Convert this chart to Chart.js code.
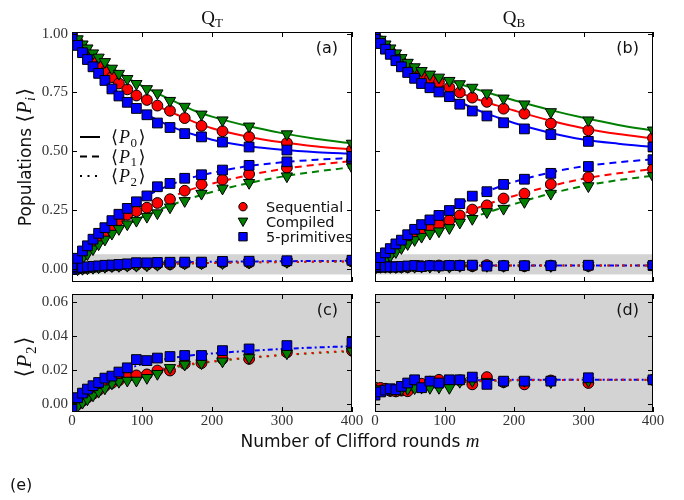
<!DOCTYPE html>
<html>
<head>
<meta charset="utf-8">
<script src="https://cdn.jsdelivr.net/npm/chart.js@4/dist/chart.umd.min.js"></script>
<style>
  body { margin: 0; background: #fff; }
  #wrap { position: relative; width: 684px; height: 500px; overflow: hidden; }
  canvas { position: absolute; left: 0; top: 0; }
</style>
</head>
<body>
<div id="wrap">
  <canvas id="ca" width="684" height="500"></canvas>
  <canvas id="cb" width="684" height="500"></canvas>
  <canvas id="cc" width="684" height="500"></canvas>
  <canvas id="cd" width="684" height="500"></canvas>
</div>
<script>
// Clifford rounds of the measured points, and of the fitted curves
const M = [0, 8, 15, 22, 30, 38, 47, 57, 67, 79, 92, 107, 122, 140, 161, 185, 215, 253, 307, 400];
const FIT_M = [0, 20, 40, 60, 80, 100, 125, 150, 175, 200, 250, 300, 350, 400];
const X_TICKS = [0, 100, 200, 300, 400];
const Y_TICKS_POP = [0, 0.25, 0.5, 0.75, 1];
const Y_TICKS_P2 = [0, 0.02, 0.04, 0.06];
const METHODS = ['Sequential', 'Compiled', '5-primitives'];

// Q_T
const T_SEQ_P0 = [1.0, 0.966, 0.939, 0.915, 0.887, 0.86, 0.837, 0.815, 0.788, 0.763, 0.737, 0.718, 0.694, 0.672, 0.641, 0.608, 0.585, 0.561, 0.535, 0.506];
const T_CMP_P0 = [1.0, 0.977, 0.955, 0.938, 0.917, 0.899, 0.88, 0.852, 0.83, 0.808, 0.787, 0.765, 0.747, 0.715, 0.69, 0.657, 0.632, 0.606, 0.573, 0.533];
const T_PRM_P0 = [0.99, 0.95, 0.919, 0.89, 0.859, 0.831, 0.801, 0.765, 0.735, 0.708, 0.682, 0.655, 0.62, 0.601, 0.575, 0.561, 0.539, 0.518, 0.505, 0.478];
const T_SEQ_P1 = [0.005, 0.033, 0.057, 0.082, 0.107, 0.131, 0.155, 0.18, 0.207, 0.23, 0.245, 0.26, 0.28, 0.296, 0.332, 0.359, 0.379, 0.403, 0.43, 0.458];
const T_CMP_P1 = [0.0, 0.023, 0.045, 0.063, 0.084, 0.105, 0.125, 0.15, 0.17, 0.19, 0.205, 0.222, 0.237, 0.262, 0.289, 0.32, 0.342, 0.366, 0.394, 0.432];
const T_PRM_P1 = [0.01, 0.045, 0.076, 0.098, 0.126, 0.151, 0.175, 0.205, 0.232, 0.257, 0.285, 0.31, 0.349, 0.363, 0.385, 0.4, 0.42, 0.44, 0.455, 0.47];
const T_SEQ_P2 = [0.0, -0.0005, 0.0016, 0.0036, 0.0058, 0.0079, 0.0103, 0.0122, 0.0138, 0.0157, 0.0167, 0.0173, 0.0196, 0.0196, 0.0236, 0.024, 0.0265, 0.0265, 0.0304, 0.0314];
const T_CMP_P2 = [-0.002, -0.0015, 0.0006, 0.0026, 0.0049, 0.0071, 0.0091, 0.012, 0.013, 0.0137, 0.0137, 0.0153, 0.0177, 0.0212, 0.0232, 0.024, 0.0251, 0.0271, 0.0299, 0.031];
const T_PRM_P2 = [-0.003, 0.0035, 0.0062, 0.0086, 0.0106, 0.0125, 0.0151, 0.0163, 0.0187, 0.0212, 0.0261, 0.0255, 0.027, 0.0279, 0.0285, 0.0285, 0.0314, 0.0324, 0.0344, 0.0363];
const T_SEQ_P0_FIT = [1.0, 0.92, 0.855, 0.805, 0.762, 0.726, 0.688, 0.655, 0.624, 0.598, 0.563, 0.538, 0.52, 0.507];
const T_CMP_P0_FIT = [1.0, 0.943, 0.892, 0.848, 0.81, 0.778, 0.742, 0.707, 0.672, 0.647, 0.608, 0.577, 0.552, 0.534];
const T_PRM_P0_FIT = [0.99, 0.898, 0.828, 0.762, 0.712, 0.67, 0.628, 0.595, 0.57, 0.549, 0.522, 0.506, 0.496, 0.49];
const T_SEQ_P1_FIT = [0.0, 0.072, 0.135, 0.185, 0.222, 0.252, 0.285, 0.315, 0.342, 0.362, 0.397, 0.424, 0.443, 0.458];
const T_CMP_P1_FIT = [0.0, 0.058, 0.11, 0.153, 0.19, 0.22, 0.252, 0.28, 0.305, 0.327, 0.363, 0.392, 0.414, 0.432];
const T_PRM_P1_FIT = [0.0, 0.09, 0.165, 0.222, 0.265, 0.3, 0.337, 0.368, 0.391, 0.408, 0.436, 0.453, 0.464, 0.472];
const T_SEQ_P2_FIT = [0, 0.005, 0.0095, 0.013, 0.0158, 0.018, 0.0203, 0.0222, 0.0238, 0.025, 0.0272, 0.0288, 0.0302, 0.0314];
const T_CMP_P2_FIT = [0, 0.004, 0.008, 0.0115, 0.0145, 0.017, 0.0196, 0.0217, 0.0234, 0.0248, 0.027, 0.0287, 0.03, 0.031];
const T_PRM_P2_FIT = [0, 0.0075, 0.013, 0.017, 0.0205, 0.0235, 0.0258, 0.0275, 0.0288, 0.0297, 0.0312, 0.0324, 0.0333, 0.034];

// Q_B
const B_SEQ_P0 = [0.995, 0.967, 0.944, 0.924, 0.901, 0.88, 0.859, 0.84, 0.824, 0.809, 0.793, 0.771, 0.75, 0.728, 0.71, 0.681, 0.66, 0.618, 0.589, 0.556];
const B_CMP_P0 = [1.0, 0.975, 0.955, 0.938, 0.917, 0.897, 0.877, 0.858, 0.842, 0.827, 0.814, 0.8, 0.786, 0.771, 0.747, 0.725, 0.7, 0.667, 0.632, 0.589];
const B_PRM_P0 = [0.99, 0.958, 0.934, 0.912, 0.885, 0.859, 0.835, 0.81, 0.788, 0.77, 0.752, 0.732, 0.7, 0.671, 0.65, 0.621, 0.595, 0.571, 0.542, 0.518];
const B_SEQ_P1 = [0.005, 0.033, 0.05, 0.067, 0.087, 0.106, 0.124, 0.142, 0.158, 0.17, 0.189, 0.206, 0.227, 0.252, 0.27, 0.299, 0.32, 0.36, 0.389, 0.424];
const B_CMP_P1 = [0.0, 0.023, 0.04, 0.055, 0.072, 0.089, 0.106, 0.123, 0.137, 0.15, 0.16, 0.174, 0.197, 0.213, 0.242, 0.256, 0.285, 0.32, 0.352, 0.395];
const B_PRM_P1 = [0.01, 0.048, 0.068, 0.086, 0.106, 0.122, 0.145, 0.168, 0.188, 0.208, 0.227, 0.248, 0.277, 0.309, 0.328, 0.359, 0.381, 0.406, 0.435, 0.464];
const B_SEQ_P2 = [0.0095, 0.0093, 0.0088, 0.0075, 0.0072, 0.0077, 0.0073, 0.0105, 0.0118, 0.013, 0.0141, 0.013, 0.0138, 0.0114, 0.0157, 0.0127, 0.0114, 0.0137, 0.0122, 0.0141];
const B_CMP_P2 = [0.008, 0.0086, 0.0088, 0.0079, 0.008, 0.0084, 0.0087, 0.0092, 0.0095, 0.0094, 0.0094, 0.0094, 0.013, 0.0135, 0.013, 0.013, 0.0135, 0.0128, 0.0135, 0.0138];
const B_PRM_P2 = [0.005, 0.0069, 0.008, 0.0088, 0.0082, 0.0102, 0.0122, 0.0141, 0.0094, 0.0133, 0.0122, 0.0141, 0.0141, 0.0157, 0.0114, 0.0133, 0.0133, 0.0133, 0.0153, 0.0141];
const B_SEQ_P0_FIT = [1.0, 0.93, 0.873, 0.832, 0.8, 0.775, 0.745, 0.718, 0.695, 0.673, 0.632, 0.598, 0.573, 0.555];
const B_CMP_P0_FIT = [1.0, 0.945, 0.895, 0.858, 0.83, 0.807, 0.783, 0.76, 0.738, 0.717, 0.677, 0.642, 0.612, 0.588];
const B_PRM_P0_FIT = [0.99, 0.915, 0.855, 0.808, 0.772, 0.742, 0.705, 0.672, 0.645, 0.62, 0.58, 0.55, 0.532, 0.518];
const B_SEQ_P1_FIT = [0.0, 0.06, 0.11, 0.148, 0.175, 0.198, 0.232, 0.262, 0.288, 0.31, 0.35, 0.383, 0.406, 0.424];
const B_CMP_P1_FIT = [0.0, 0.05, 0.093, 0.127, 0.152, 0.172, 0.2, 0.228, 0.252, 0.275, 0.318, 0.352, 0.377, 0.396];
const B_PRM_P1_FIT = [0.0, 0.072, 0.13, 0.175, 0.21, 0.24, 0.28, 0.315, 0.345, 0.37, 0.408, 0.436, 0.453, 0.466];
const B_SEQ_P2_FIT = [0.008, 0.0088, 0.0098, 0.0108, 0.0117, 0.0124, 0.013, 0.0134, 0.0137, 0.0139, 0.014, 0.0141, 0.0141, 0.0141];
const B_CMP_P2_FIT = [0.007, 0.0082, 0.0093, 0.0103, 0.0112, 0.012, 0.0127, 0.0132, 0.0135, 0.0137, 0.0139, 0.014, 0.014, 0.014];
const B_PRM_P2_FIT = [0.006, 0.0085, 0.0104, 0.0117, 0.0126, 0.0132, 0.0137, 0.0139, 0.014, 0.0141, 0.0142, 0.0142, 0.0142, 0.0142];

// styles
const COLORS = ['#ff0000', '#008000', '#0000ff'];
const MARKERS = ['circle', 'triangle', 'rect'];
const SIZES = [5.4, 6.5, 6.9];
const DASHES = [[], [7, 5], [2, 5.5]];
const BLUE_P2_DASH = [5, 3, 2, 3];
const SHADE = '#d3d3d3';
const SERIF = '"Liberation Serif", "DejaVu Serif", serif';
const SANS = '"DejaVu Sans", sans-serif';
const TICK_FONT = { family: '"Liberation Serif", "DejaVu Serif", serif', size: 15 };
const TICK_COLOR = '#333';
const TICK_LEN = 5;

function xy(xs, ys) {
  return xs.map((x, i) => ({ x: x, y: ys[i] }));
}

// rows: [method, population, points, fit]
function datasets(rows) {
  const out = [];
  rows.forEach(([mi, pk, pts, fit]) => {
    out.push({
      data: xy(FIT_M, fit), showLine: true, pointRadius: 0, borderWidth: 2,
      borderColor: COLORS[mi],
      borderDash: (pk === 2 && mi === 2) ? BLUE_P2_DASH : DASHES[pk],
      cubicInterpolationMode: 'monotone', clip: 0, order: 10
    });
    out.push({
      data: xy(M, pts), showLine: false,
      pointStyle: MARKERS[mi], pointRadius: SIZES[mi], pointRotation: mi === 1 ? 180 : 0,
      pointBackgroundColor: COLORS[mi], pointBorderColor: '#000', pointBorderWidth: 1,
      clip: 0, order: 3 - mi
    });
  });
  return out;
}

// text made of pieces with different fonts
function rich(ctx, x, y, parts, center) {
  let w = 0;
  parts.forEach(p => { ctx.font = p.f; w += ctx.measureText(p.t).width + (p.g || 0); });
  if (center) x -= w / 2;
  parts.forEach(p => {
    ctx.font = p.f;
    ctx.fillText(p.t, x, y + (p.dy || 0));
    x += ctx.measureText(p.t).width + (p.g || 0);
  });
}

function braP(sub, size, italicSub) {
  return [
    { t: '⟨', f: size + 'px ' + SERIF, g: 1 },
    { t: 'P', f: 'italic ' + size + 'px ' + SERIF, g: 0.5 },
    { t: sub, f: (italicSub ? 'italic ' : '') + Math.round(size * 0.7) + 'px ' + SERIF, dy: size * 0.22, g: 1.5 },
    { t: '⟩', f: size + 'px ' + SERIF }
  ];
}

function marker(ctx, mi, x, y) {
  ctx.beginPath();
  if (mi === 0) ctx.arc(x, y, 4.2, 0, 2 * Math.PI);
  else if (mi === 2) ctx.rect(x - 4.2, y - 4.2, 8.4, 8.4);
  else { ctx.moveTo(x - 4.8, y - 3.6); ctx.lineTo(x + 4.8, y - 3.6); ctx.lineTo(x, y + 4.8); ctx.closePath(); }
  ctx.fillStyle = COLORS[mi];
  ctx.fill();
  ctx.lineWidth = 1;
  ctx.strokeStyle = '#000';
  ctx.stroke();
}

function qTitle(ctx, a, sub) {
  rich(ctx, (a.left + a.right) / 2, 24, [
    { t: 'Q', f: '19px ' + SERIF },
    { t: sub, f: '13px ' + SERIF, dy: 3 }
  ], true);
}

const EXTRAS = {
  ca(ctx, a) {
    qTitle(ctx, a, 'T');
    ctx.save();
    ctx.translate(31, 157);
    ctx.rotate(-Math.PI / 2);
    rich(ctx, 0, 0, [{ t: 'Populations ', f: '17px ' + SANS }].concat(braP('i', 20, true)), true);
    ctx.restore();
    // line-style key
    [137, 156.5, 176].forEach((y, k) => {
      ctx.save();
      ctx.strokeStyle = '#000';
      ctx.lineWidth = 2;
      ctx.setLineDash(DASHES[k]);
      ctx.beginPath();
      ctx.moveTo(80, y);
      ctx.lineTo(100, y);
      ctx.stroke();
      ctx.restore();
      rich(ctx, 111, y + 6, braP(String(k), 18));
    });
    // marker key
    METHODS.forEach((name, i) => {
      const y = 206.7 + i * 15;
      marker(ctx, i, 243, y);
      ctx.fillStyle = '#111';
      ctx.font = '14.5px ' + SANS;
      ctx.fillText(name, 266, y + 5);
    });
  },
  cb(ctx, a) {
    qTitle(ctx, a, 'B');
  },
  cc(ctx, a) {
    ctx.save();
    ctx.translate(31, 357);
    ctx.rotate(-Math.PI / 2);
    rich(ctx, 0, 0, braP('2', 22), true);
    ctx.restore();
    rich(ctx, 360, 447, [
      { t: 'Number of Clifford rounds ', f: '17px ' + SANS },
      { t: 'm', f: 'italic 19px ' + SERIF }
    ], true);
    ctx.font = '16px ' + SANS;
    ctx.fillText('(e)', 10, 490);
  },
  cd() {}
};

const deco = {
  id: 'deco',
  beforeDatasetsDraw(chart, args, o) {
    const { ctx, chartArea: a, scales: { y } } = chart;
    const top = Math.max(a.top, y.getPixelForValue(o.shade[1]));
    const bot = Math.min(a.bottom, y.getPixelForValue(o.shade[0]));
    ctx.save();
    ctx.fillStyle = SHADE;
    ctx.fillRect(a.left, top, a.right - a.left, bot - top);
    ctx.restore();
  },
  afterDraw(chart, args, o) {
    const { ctx, chartArea: a, scales: { x, y } } = chart;
    ctx.save();
    ctx.strokeStyle = '#000';
    ctx.lineWidth = 1;
    ctx.strokeRect(a.left + 0.5, a.top + 0.5, a.right - a.left - 1, a.bottom - a.top - 1);
    ctx.beginPath();
    x.ticks.forEach(t => {
      const px = Math.round(x.getPixelForValue(t.value)) + 0.5;
      ctx.moveTo(px, a.top); ctx.lineTo(px, a.top + TICK_LEN);
      ctx.moveTo(px, a.bottom); ctx.lineTo(px, a.bottom - TICK_LEN);
    });
    y.ticks.forEach(t => {
      const py = Math.round(y.getPixelForValue(t.value)) + 0.5;
      ctx.moveTo(a.left, py); ctx.lineTo(a.left + TICK_LEN, py);
      ctx.moveTo(a.right, py); ctx.lineTo(a.right - TICK_LEN, py);
    });
    ctx.stroke();
    ctx.fillStyle = '#111';
    ctx.textAlign = 'right';
    ctx.font = '16px ' + SANS;
    ctx.fillText(o.letter, a.right - 14, a.top + 20.5);
    ctx.textAlign = 'left';
    EXTRAS[chart.canvas.id](ctx, a);
    ctx.restore();
  }
};

function panel(id, o) {
  return new Chart(document.getElementById(id), {
    type: 'scatter',
    data: { datasets: datasets(o.rows) },
    options: {
      responsive: false,
      animation: false,
      events: [],
      layout: { padding: o.pad },
      plugins: {
        legend: { display: false },
        tooltip: { enabled: false },
        deco: { shade: o.shade, letter: o.letter }
      },
      scales: {
        x: {
          type: 'linear', min: 0, max: 400,
          afterBuildTicks: s => { s.ticks = X_TICKS.map(v => ({ value: v })); },
          afterFit: s => { s.height = o.xh; s.paddingLeft = 0; s.paddingRight = 0; },
          grid: { display: false, drawTicks: false },
          border: { display: false },
          ticks: { display: o.xLab, padding: 0, maxRotation: 0, autoSkip: false, color: TICK_COLOR, font: TICK_FONT }
        },
        y: {
          type: 'linear', min: o.ymin, max: o.ymax,
          afterBuildTicks: s => { s.ticks = o.yTicks.map(v => ({ value: v })); },
          afterFit: s => { s.width = o.yw; s.paddingTop = 0; s.paddingBottom = 0; },
          grid: { display: false, drawTicks: false },
          border: { display: false },
          ticks: { display: o.yLab, padding: 4, color: TICK_COLOR, font: TICK_FONT, callback: v => v.toFixed(2) }
        }
      }
    },
    plugins: [deco]
  });
}

panel('ca', {
  rows: [
    [0, 0, T_SEQ_P0, T_SEQ_P0_FIT], [0, 1, T_SEQ_P1, T_SEQ_P1_FIT], [0, 2, T_SEQ_P2, T_SEQ_P2_FIT],
    [1, 0, T_CMP_P0, T_CMP_P0_FIT], [1, 1, T_CMP_P1, T_CMP_P1_FIT], [1, 2, T_CMP_P2, T_CMP_P2_FIT],
    [2, 0, T_PRM_P0, T_PRM_P0_FIT], [2, 1, T_PRM_P1, T_PRM_P1_FIT], [2, 2, T_PRM_P2, T_PRM_P2_FIT]
  ],
  pad: { left: 0, top: 32, right: 332, bottom: 218 },
  yw: 72, xh: 0, xLab: false, yLab: true,
  ymin: -0.056, ymax: 1.007, yTicks: Y_TICKS_POP,
  shade: [-0.024, 0.062], letter: '(a)'
});

panel('cb', {
  rows: [
    [0, 0, B_SEQ_P0, B_SEQ_P0_FIT], [0, 1, B_SEQ_P1, B_SEQ_P1_FIT], [0, 2, B_SEQ_P2, B_SEQ_P2_FIT],
    [1, 0, B_CMP_P0, B_CMP_P0_FIT], [1, 1, B_CMP_P1, B_CMP_P1_FIT], [1, 2, B_CMP_P2, B_CMP_P2_FIT],
    [2, 0, B_PRM_P0, B_PRM_P0_FIT], [2, 1, B_PRM_P1, B_PRM_P1_FIT], [2, 2, B_PRM_P2, B_PRM_P2_FIT]
  ],
  pad: { left: 362, top: 32, right: 31, bottom: 218 },
  yw: 13, xh: 0, xLab: false, yLab: false,
  ymin: -0.056, ymax: 1.007, yTicks: Y_TICKS_POP,
  shade: [-0.024, 0.062], letter: '(b)'
});

panel('cc', {
  rows: [
    [0, 2, T_SEQ_P2, T_SEQ_P2_FIT], [1, 2, T_CMP_P2, T_CMP_P2_FIT], [2, 2, T_PRM_P2, T_PRM_P2_FIT]
  ],
  pad: { left: 0, top: 294, right: 332, bottom: 68 },
  yw: 72, xh: 20, xLab: true, yLab: true,
  ymin: -0.005, ymax: 0.065, yTicks: Y_TICKS_P2,
  shade: [-1, 1], letter: '(c)'
});

panel('cd', {
  rows: [
    [0, 2, B_SEQ_P2, B_SEQ_P2_FIT], [1, 2, B_CMP_P2, B_CMP_P2_FIT], [2, 2, B_PRM_P2, B_PRM_P2_FIT]
  ],
  pad: { left: 362, top: 294, right: 31, bottom: 68 },
  yw: 13, xh: 20, xLab: true, yLab: false,
  ymin: -0.005, ymax: 0.065, yTicks: Y_TICKS_P2,
  shade: [-1, 1], letter: '(d)'
});
</script>
</body>
</html>
